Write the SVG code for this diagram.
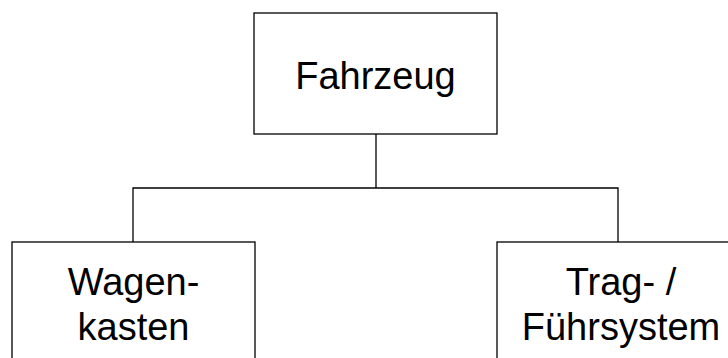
<svg xmlns="http://www.w3.org/2000/svg" width="728" height="358" viewBox="0 0 728 358">
<style>
.box{fill:#fff;stroke:#000;stroke-width:1.3}
.lbl{font-family:"Liberation Sans",Arial,sans-serif;font-size:38px;fill:#000;text-anchor:middle}
.con{fill:none;stroke:#000;stroke-width:1.3}
</style>
<rect width="728" height="358" fill="#fff"/>
<g id="connectors">
<path class="con" d="M376,134 V188 M133,242 V188 H618 V242"/>
</g>
<g id="fahrzeug">
<rect class="box" x="254" y="13" width="243" height="121"/>
<text class="lbl" x="375.5" y="89">Fahrzeug</text>
</g>
<g id="wagenkasten">
<rect class="box" x="12" y="242" width="243" height="140"/>
<text class="lbl" x="133.5" y="295">Wagen-</text>
<text class="lbl" x="133.5" y="340">kasten</text>
</g>
<g id="tragfuehrsystem">
<rect class="box" x="497" y="242" width="248" height="140"/>
<text class="lbl" x="621" y="295">Trag- /</text>
<text class="lbl" x="621" y="340">Führsystem</text>
</g>
</svg>
